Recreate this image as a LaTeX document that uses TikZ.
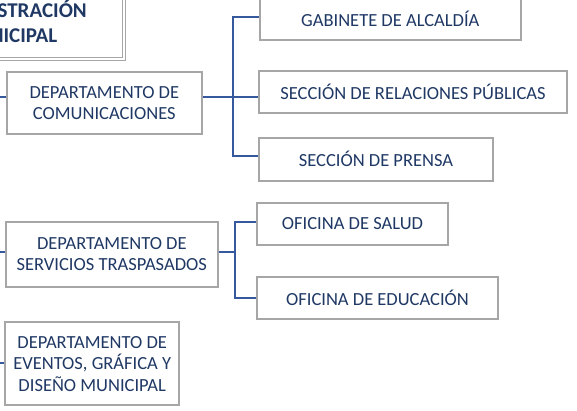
\documentclass[tikz,border=0pt]{standalone}
\usepackage{fontspec}
\setmainfont{Carlito}
\definecolor{navy}{HTML}{1F3864}
\definecolor{linkblue}{HTML}{35599C}
\definecolor{boxgray}{HTML}{A6A6A6}
\begin{document}
\begin{tikzpicture}[x=1pt,y=-1pt,
  unit/.style={draw=boxgray,line width=2pt,fill=white,text=navy,align=center,
    inner sep=0pt,font=\fontsize{18.5}{21.5}\selectfont},
  headbox/.style={draw=boxgray,line width=1pt,double=white,double distance=1.4pt,
    fill=white,text=navy,align=center,inner sep=0pt,
    font=\fontsize{21}{25}\selectfont\bfseries},
  link/.style={draw=linkblue,line width=2pt}]
\useasboundingbox (0,0) rectangle (577,411);
\begin{scope}
\clip (0,0) rectangle (577,411);
% boxes
\node[headbox,minimum width=233pt,minimum height=76pt] (adm) at (7.5,21.2) {ADMINISTRACIÓN\\MUNICIPAL};
\node[unit,minimum width=194.7pt,minimum height=62pt] (com) at (104.3,103.3) {DEPARTAMENTO DE\\COMUNICACIONES};
\node[unit,minimum width=260.7pt,minimum height=41pt] (gab) at (390.3,19.2) {GABINETE DE ALCALDÍA};
\node[unit,minimum width=307.4pt,minimum height=42.6pt] (rp) at (413,92) {SECCIÓN DE RELACIONES PÚBLICAS};
\node[unit,minimum width=233.4pt,minimum height=43pt] (pre) at (376,159.2) {SECCIÓN DE PRENSA};
\node[unit,minimum width=211.7pt,minimum height=65pt] (ser) at (111.8,254.2) {DEPARTAMENTO DE\\SERVICIOS TRASPASADOS};
\node[unit,minimum width=191.6pt,minimum height=42.3pt] (sal) at (352.5,223.8) {OFICINA DE SALUD};
\node[unit,minimum width=241.6pt,minimum height=42pt] (edu) at (377.5,298.3) {OFICINA DE EDUCACIÓN};
\node[unit,minimum width=174.3pt,minimum height=82.7pt] (eve) at (92.2,363.7) {DEPARTAMENTO DE\\EVENTOS, GRÁFICA Y\\DISEÑO MUNICIPAL};
% left trunk
\coordinate (lc) at ([yshift=6.3pt]com.west);
\coordinate (ls) at ([yshift=2.5pt]ser.west);
\coordinate (le) at ([yshift=1pt]eve.west);
\coordinate (lt) at (-8,0);
\draw[link] (lc -| lt) -- (lc);
\draw[link] (ls -| lt) -- (ls);
\draw[link] (le -| lt) -- (le);
% communications branch
\coordinate (c1) at ([yshift=6.6pt]com.east);
\coordinate (t1) at (233.3,0);
\coordinate (g1) at ([yshift=1.9pt]gab.west);
\coordinate (p1) at ([yshift=3.5pt]pre.west);
\draw[link] (c1) -- (c1 -| rp.west);
\draw[link] (g1) -- (g1 -| t1) -- (p1 -| t1) -- (p1);
% services branch
\coordinate (s1) at ([yshift=2.5pt]ser.east);
\coordinate (t2) at (235,0);
\coordinate (a1) at ([yshift=2.1pt]sal.west);
\coordinate (e1) at ([yshift=0.6pt]edu.west);
\draw[link] (s1) -- (s1 -| t2);
\draw[link] (a1) -- (a1 -| t2) -- (e1 -| t2) -- (e1);
\end{scope}
\end{tikzpicture}
\end{document}
